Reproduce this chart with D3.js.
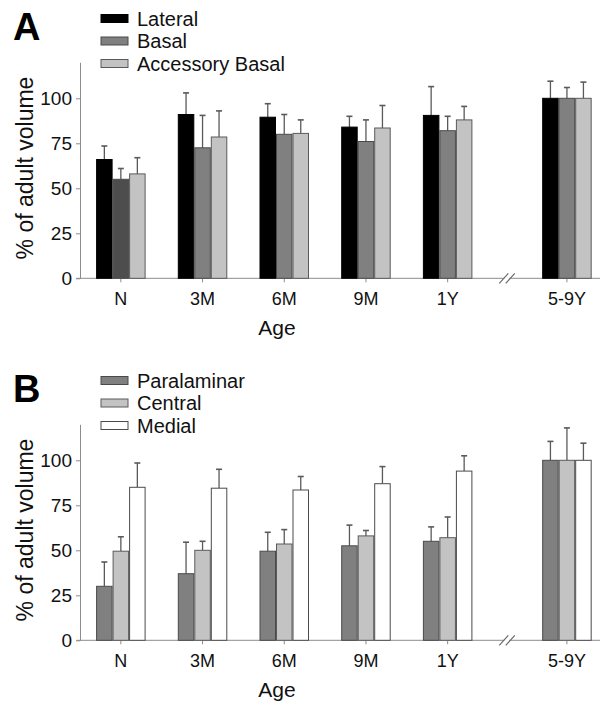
<!DOCTYPE html>
<html>
<head>
<meta charset="utf-8">
<script src="https://cdn.jsdelivr.net/npm/d3@7"></script>
<style>
  html, body { margin: 0; padding: 0; background: #fff; }
  svg { display: block; font-family: "Liberation Sans", Arial, sans-serif; }
</style>
</head>
<body>
<svg id="chart" width="606" height="705"></svg>
<script>
// Age groups along the x axis (the adult group sits after an axis break)
const ages = ["N", "3M", "6M", "9M", "1Y", "5-9Y"];
const yTicks = [0, 25, 50, 75, 100];

// Panel A: lateral, basal and accessory basal nuclei (% of adult volume, mean and upper SD)
const seriesA = ["Lateral", "Basal", "Accessory Basal"];
const lateralMean = [66, 91, 89.5, 84, 90.5, 100];
const lateralSD   = [7.5, 12, 7.5, 6, 16, 9.5];
const basalMean   = [55, 72.5, 80, 76, 82, 100];
const basalSD     = [6, 18, 11, 12, 8, 6];
const accBasalMean = [58, 78.5, 80.5, 83.5, 88, 100];
const accBasalSD   = [9, 14.5, 7.5, 12.5, 7.5, 9];

// Panel B: paralaminar, central and medial nuclei
const seriesB = ["Paralaminar", "Central", "Medial"];
const paralaminarMean = [30, 37, 49.5, 52.5, 55, 100];
const paralaminarSD   = [13.5, 17.5, 10.5, 11.5, 8, 10.5];
const centralMean = [49.5, 50, 53.5, 58, 57, 100];
const centralSD   = [8, 5, 8, 3, 11.5, 18];
const medialMean  = [85, 84.5, 83.5, 87, 94, 100];
const medialSD    = [13.5, 10.5, 7.5, 9.5, 8.5, 9.5];

// ---- styling ----
const fills = {
  "Lateral": "#000000", "Basal": "#808080", "Accessory Basal": "#c3c3c3",
  "Paralaminar": "#808080", "Central": "#c3c3c3", "Medial": "#ffffff"
};
const strokes = {
  "Lateral": "#000000", "Basal": "#4a4a4a", "Accessory Basal": "#5a5a5a",
  "Paralaminar": "#4a4a4a", "Central": "#5a5a5a", "Medial": "#4a4a4a"
};
// the newborn basal bar is printed in a darker shade
const fillOverride = { "N|Basal": "#4d4d4d" };

const svg = d3.select("#chart");
const axisGray = "#8c8c8c";

// shared geometry
const left = 80, right = 600;
const slot = 81.7;
const breakSlots = 1.46;               // extra spacing taken by the axis break
const posIndex = ages.map((a, i) => i < ages.length - 1 ? i : i - 1 + breakSlots);
const x = d3.scaleLinear()
  .domain([-0.5, -0.5 + (right - left) / slot])
  .range([left, right]);
const inner = d3.scaleBand().range([-24.75, 24.75]).paddingInner(0);

function drawPanel(offsetY, letter, series, means, sds) {
  const g = svg.append("g").attr("transform", `translate(0,${offsetY})`);
  const y = d3.scaleLinear().domain([0, 120]).range([278.3, 62.3]);
  inner.domain(series);

  // rows of the table built from the named arrays
  const rows = [];
  ages.forEach((age, i) => {
    series.forEach((s, k) => {
      rows.push({ age, idx: posIndex[i], series: s, mean: means[k][i], sd: sds[k][i] });
    });
  });

  // y axis
  const yAxis = g.append("g")
    .attr("transform", `translate(${left},0)`)
    .call(d3.axisLeft(y).tickValues(yTicks).tickSize(4).tickSizeOuter(0).tickPadding(4));
  yAxis.select(".domain").attr("stroke", axisGray);
  yAxis.selectAll(".tick line").attr("stroke", axisGray);
  yAxis.selectAll(".tick text").attr("font-size", 19).attr("fill", "#111")
    .attr("font-family", "Liberation Sans, Arial, sans-serif");

  // baseline with x ticks
  const y0 = y(0);
  g.append("line").attr("x1", left - 3.5).attr("x2", right)
    .attr("y1", y0).attr("y2", y0).attr("stroke", axisGray).attr("stroke-width", 1);
  g.selectAll(".xtick").data(ages).enter().append("line")
    .attr("x1", (d, i) => x(posIndex[i])).attr("x2", (d, i) => x(posIndex[i]))
    .attr("y1", y0).attr("y2", y0 + 4).attr("stroke", axisGray);
  g.selectAll(".xlab").data(ages).enter().append("text")
    .attr("x", (d, i) => x(posIndex[i])).attr("y", 305)
    .attr("text-anchor", "middle").attr("font-size", 18).attr("fill", "#111")
    .text(d => d);

  // axis break marks
  const bx = x((posIndex[4] + posIndex[5]) / 2);
  g.append("rect").attr("x", bx - 3).attr("y", y0 - 1.5).attr("width", 5).attr("height", 3).attr("fill", "#fff");
  [-3.5, 3].forEach(dx => {
    g.append("line")
      .attr("x1", bx + dx - 4.5).attr("y1", y0 + 5)
      .attr("x2", bx + dx + 4.5).attr("y2", y0 - 5)
      .attr("stroke", "#666").attr("stroke-width", 1.1);
  });

  // error bars (upper SD only)
  const bw = inner.bandwidth();
  const eb = g.selectAll(".err").data(rows).enter().append("g");
  eb.append("line")
    .attr("x1", d => x(d.idx) + inner(d.series) + bw / 2)
    .attr("x2", d => x(d.idx) + inner(d.series) + bw / 2)
    .attr("y1", d => y(d.mean)).attr("y2", d => y(d.mean + d.sd))
    .attr("stroke", "#5a5a5a").attr("stroke-width", 1.3);
  eb.append("line")
    .attr("x1", d => x(d.idx) + inner(d.series) + bw / 2 - 3)
    .attr("x2", d => x(d.idx) + inner(d.series) + bw / 2 + 3)
    .attr("y1", d => y(d.mean + d.sd)).attr("y2", d => y(d.mean + d.sd))
    .attr("stroke", "#5a5a5a").attr("stroke-width", 1.6);

  // bars
  g.selectAll(".bar").data(rows).enter().append("rect")
    .attr("x", d => x(d.idx) + inner(d.series) + 0.5)
    .attr("width", bw - 1)
    .attr("y", d => y(d.mean))
    .attr("height", d => y0 - y(d.mean))
    .attr("fill", d => fillOverride[d.age + "|" + d.series] || fills[d.series])
    .attr("stroke", d => strokes[d.series]).attr("stroke-width", 1);

  // axis titles
  g.append("text")
    .attr("transform", `translate(33,168) rotate(-90)`)
    .attr("text-anchor", "middle").attr("font-size", 23).attr("fill", "#111")
    .text("% of adult volume");
  g.append("text").attr("x", 277).attr("y", 335)
    .attr("text-anchor", "middle").attr("font-size", 21).attr("fill", "#111")
    .text("Age");

  // panel letter
  g.append("text").attr("x", 13).attr("y", 39.5)
    .attr("font-size", 38).attr("font-weight", "bold").attr("fill", "#000")
    .text(letter);

  // legend
  const lg = g.append("g");
  series.forEach((s, k) => {
    const cy = 18.5 + k * 22.5;
    lg.append("rect").attr("x", 101).attr("y", cy - 4).attr("width", 27).attr("height", 8)
      .attr("fill", fills[s]).attr("stroke", strokes[s]).attr("stroke-width", 1);
    lg.append("text").attr("x", 137).attr("y", cy + 7)
      .attr("font-size", 20).attr("fill", "#111").text(s);
  });
}

drawPanel(0, "A", seriesA,
  [lateralMean, basalMean, accBasalMean],
  [lateralSD, basalSD, accBasalSD]);
drawPanel(362, "B", seriesB,
  [paralaminarMean, centralMean, medialMean],
  [paralaminarSD, centralSD, medialSD]);
</script>
</body>
</html>
